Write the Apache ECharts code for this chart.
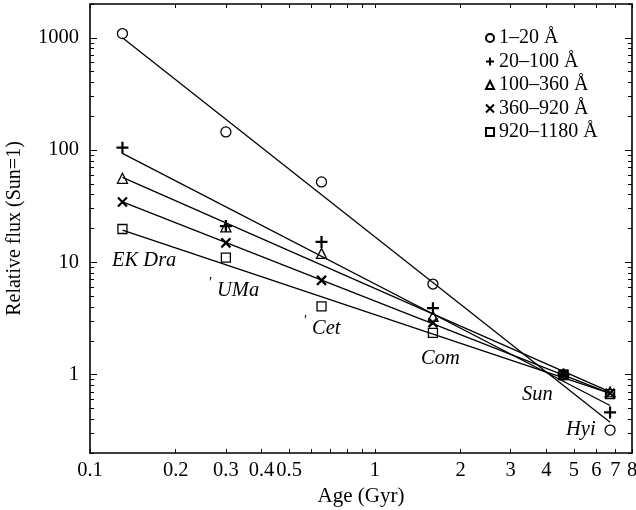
<!DOCTYPE html>
<html>
<head>
<meta charset="utf-8">
<script src="https://cdn.jsdelivr.net/npm/echarts@6/dist/echarts.min.js"></script>
<style>
  html, body { margin: 0; padding: 0; background: #fff; }
  #chart { width: 636px; height: 510px; }
</style>
</head>
<body>
<div id="chart"></div>
<script>
// star ages (Gyr): EK Dra, pi1 UMa, kappa1 Cet, beta Com, Sun, beta Hyi
const ages = [0.13, 0.30, 0.65, 1.6, 4.6, 6.7];
const bandNames = ["1–20 Å", "20–100 Å", "100–360 Å", "360–920 Å", "920–1180 Å"];
const flux1to20 = [1090, 145, 52, 6.4, 1, 0.32];
const flux20to100 = [105, 21, 15.2, 3.9, 1, 0.46];
const flux100to360 = [56, 20.7, 12, 3.3, 1, 0.70];
const flux360to920 = [34.5, 14.9, 6.9, 2.9, 1, 0.68];
const flux920to1180 = [19.8, 11, 4.05, 2.35, 1, 0.67];

const fitAges = [0.13, 6.7];
const fit1to20 = [1000, 0.375];
const fit20to100 = [93.5, 0.53];
const fit100to360 = [57, 0.70];
const fit360to920 = [34.5, 0.68];
const fit920to1180 = [19.3, 0.68];

const xLabels = [0.1, 0.2, 0.3, 0.4, 0.5, 1, 2, 3, 4, 5, 6, 7, 8];
const xTicks = [0.1, 0.2, 0.3, 0.4, 0.5, 0.6, 0.7, 0.8, 0.9, 1, 2, 3, 4, 5, 6, 7, 8];
const yLabels = [1, 10, 100, 1000];
const yMinorTicks = [0.2, 0.3, 0.4, 0.5, 0.6, 0.7, 0.8, 0.9, 2, 3, 4, 5, 6, 7, 8, 9,
  20, 30, 40, 50, 60, 70, 80, 90, 200, 300, 400, 500, 600, 700, 800, 900, 2000];

const serif = "Liberation Serif";
const black = "#000";
const hollow = "rgba(0,0,0,0)";

const symbols = [
  { symbol: "circle", size: 10, width: 1.3 },
  { symbol: "path://M5,0L5,10M0,5L10,5", size: 12, width: 2.2 },
  { symbol: "triangle", size: 10, width: 1.3 },
  { symbol: "path://M0,0L10,10M10,0L0,10", size: 9, width: 2.2 },
  { symbol: "rect", size: 9, width: 1.3 }
];
const pointSets = [flux1to20, flux20to100, flux100to360, flux360to920, flux920to1180];
const fitSets = [fit1to20, fit20to100, fit100to360, fit360to920, fit920to1180];

const chart = echarts.init(document.getElementById("chart"));

function xAxisDef(pos, withLabels) {
  return {
    type: "log", min: 0.1, max: 8, position: pos,
    axisLine: { show: true, lineStyle: { color: black, width: 1.6 } },
    axisTick: { show: true, inside: true, length: 4, customValues: xTicks, lineStyle: { color: black, width: 1 } },
    axisLabel: { show: withLabels, customValues: xLabels, margin: 7, color: black, fontFamily: serif, fontSize: 20.5,
      formatter: v => String(v) },
    splitLine: { show: false }, minorTick: { show: false },
    name: withLabels ? "Age (Gyr)" : "", nameLocation: "middle", nameGap: 31,
    nameTextStyle: { color: black, fontFamily: serif, fontSize: 21 }
  };
}
function yAxisDef(pos, major, withLabels) {
  return {
    type: "log", min: 0.2, max: 2000, position: pos,
    axisLine: { show: major, lineStyle: { color: black, width: 1.6 } },
    axisTick: { show: true, inside: true, length: major ? 7 : 4,
      customValues: major ? yLabels : yMinorTicks, lineStyle: { color: black, width: 1 } },
    axisLabel: { show: withLabels, customValues: yLabels, margin: 11, color: black, fontFamily: serif, fontSize: 20.5,
      formatter: v => String(v) },
    splitLine: { show: false }, minorTick: { show: false },
    name: withLabels ? "Relative flux (Sun=1)" : "", nameLocation: "middle", nameGap: 65,
    nameTextStyle: { color: black, fontFamily: serif, fontSize: 20 }
  };
}

const series = [];
fitSets.forEach((fit, i) => {
  series.push({
    type: "line", name: "fit " + bandNames[i], xAxisIndex: 0, yAxisIndex: 0,
    data: fitAges.map((a, k) => [a, fit[k]]),
    showSymbol: false, silent: true, z: 1,
    lineStyle: { color: black, width: 1.3 }
  });
});
pointSets.forEach((vals, i) => {
  series.push({
    type: "scatter", name: bandNames[i], xAxisIndex: 0, yAxisIndex: 0,
    data: ages.map((a, k) => [a, vals[k]]),
    symbol: symbols[i].symbol, symbolSize: symbols[i].size, z: 3,
    itemStyle: { color: hollow, borderColor: black, borderWidth: symbols[i].width, opacity: 1 }
  });
});

const italic = { fill: black, font: "italic 20.5px 'Liberation Serif'", textVerticalAlign: "middle" };
const tick = { fill: black, font: "italic 15px 'Liberation Serif'", textVerticalAlign: "middle" };

chart.setOption({
  animation: false,
  backgroundColor: "#fff",
  grid: { left: 90, right: 4, top: 4, bottom: 57, containLabel: false, outerBoundsMode: "none" },
  legend: {
    data: bandNames, orient: "vertical", left: 480, top: 23,
    itemWidth: 8, itemHeight: 8, itemGap: 3.5,
    textStyle: { color: black, fontFamily: serif, fontSize: 20 }
  },
  xAxis: [xAxisDef("bottom", true), xAxisDef("top", false)],
  yAxis: [yAxisDef("left", true, true), yAxisDef("left", false, false),
          yAxisDef("right", true, false), yAxisDef("right", false, false)],
  graphic: [
    { type: "text", left: 112, top: 251, style: Object.assign({ text: "EK Dra" }, italic) },
    { type: "text", left: 208, top: 276, style: Object.assign({ text: "'" }, tick) },
    { type: "text", left: 217, top: 281, style: Object.assign({ text: "UMa" }, italic) },
    { type: "text", left: 303, top: 314, style: Object.assign({ text: "'" }, tick) },
    { type: "text", left: 312, top: 319, style: Object.assign({ text: "Cet" }, italic) },
    { type: "text", left: 421, top: 349, style: Object.assign({ text: "Com" }, italic) },
    { type: "text", left: 522, top: 385, style: Object.assign({ text: "Sun" }, italic) },
    { type: "text", left: 566, top: 420, style: Object.assign({ text: "Hyi" }, italic) }
  ],
  series: series
});
</script>
</body>
</html>
